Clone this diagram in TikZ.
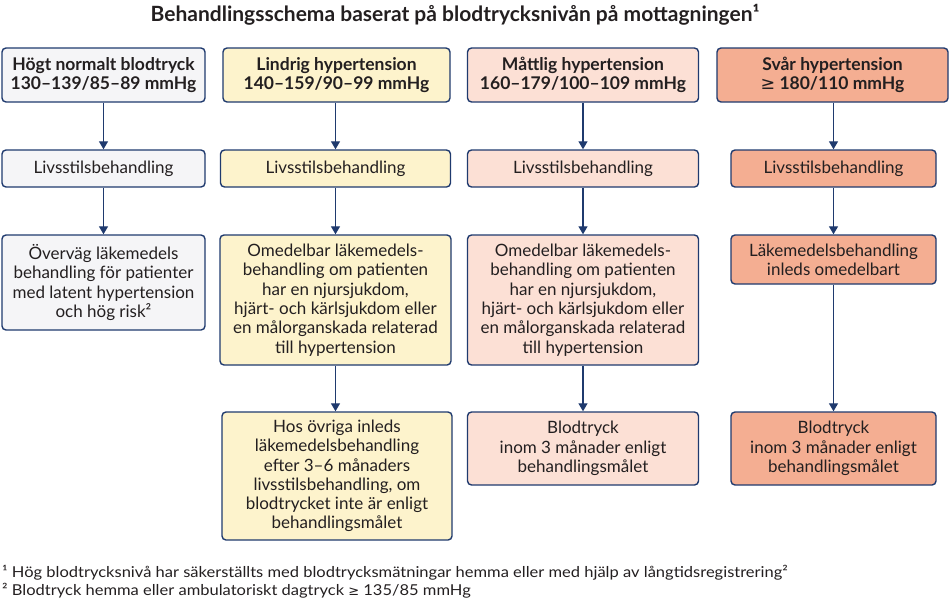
\documentclass[tikz,border=0pt]{standalone}
\usepackage{fontspec}
\setmainfont{Lato}
\newfontfamily\symf{DejaVu Sans}
\newfontfamily\footf[FakeStretch=1.1]{Lato}
\usetikzlibrary{arrows.meta}
\definecolor{navy}{HTML}{1F3A6E}
\definecolor{cA}{HTML}{F5F5F7}
\definecolor{cB}{HTML}{FDF3CC}
\definecolor{cC}{HTML}{FCE0D5}
\definecolor{cD}{HTML}{F4AE92}
\definecolor{txt}{HTML}{231F20}
\tikzset{
  box/.style={draw=navy, line width=1.4pt, rounded corners=4pt, align=center, inner sep=0pt,
    text=txt, font=\fontsize{17}{19.3}\selectfont},
  hbox/.style={box, font=\fontsize{17.5}{19.5}\selectfont\bfseries},
  arr/.style={draw=navy, line width=1.3pt, -{Triangle[width=9pt,length=8pt]}},
  foot/.style={anchor=west, inner sep=0pt, font=\footf\fontsize{15}{17}\selectfont, text=txt},
}
\begin{document}
\begin{tikzpicture}[x=1pt,y=-1pt]
\useasboundingbox (0,0) rectangle (950,603);
\node[font=\fontsize{21}{22}\selectfont\bfseries, text=txt] (title) at (455,15) {Behandlingsschema baserat på blodtrycksnivån på mottagningen¹};
% row 1 headers
\node[hbox, fill=cA, minimum width=203pt, minimum height=54pt] (h1) at (103.5,75) {Högt normalt blodtryck\\130–139/85–89 mmHg};
\node[hbox, fill=cB, minimum width=227pt, minimum height=54pt] (h2) at (336.5,75) {Lindrig hypertension\\140–159/90–99 mmHg};
\node[hbox, fill=cC, minimum width=231pt, minimum height=54pt] (h3) at (583,75) {Måttlig hypertension\\160–179/100–109 mmHg};
\node[hbox, fill=cD, minimum width=231pt, minimum height=54pt] (h4) at (832.5,75) {Svår hypertension\\{\symf\mdseries ≥} 180/110 mmHg};
% row 2
\node[box, fill=cA, minimum width=203pt, minimum height=37pt] (l1) at (103.5,168.5) {Livsstilsbehandling};
\node[box, fill=cB, minimum width=230pt, minimum height=37pt] (l2) at (335.5,168.5) {Livsstilsbehandling};
\node[box, fill=cC, minimum width=231pt, minimum height=37pt] (l3) at (583,168.5) {Livsstilsbehandling};
\node[box, fill=cD, minimum width=205pt, minimum height=37pt] (l4) at (833.5,168.5) {Livsstilsbehandling};
% row 3
\node[box, fill=cA, minimum width=203pt, minimum height=95pt] (m1) at (103.5,282.5) {Överväg läkemedels\\behandling för patienter\\med latent hypertension\\och hög risk²};
\node[box, fill=cB, minimum width=231pt, minimum height=130pt] (m2) at (335.5,300) {Omedelbar läkemedels-\\behandling om patienten\\har en njursjukdom,\\hjärt- och kärlsjukdom eller\\en målorganskada relaterad\\till hypertension};
\node[box, fill=cC, minimum width=231pt, minimum height=130pt] (m3) at (583,300) {Omedelbar läkemedels-\\behandling om patienten\\har en njursjukdom,\\hjärt- och kärlsjukdom eller\\en målorganskada relaterad\\till hypertension};
\node[box, fill=cD, minimum width=205pt, minimum height=49pt] (m4) at (833.5,259.5) {Läkemedelsbehandling\\inleds omedelbart};
% row 4
\node[box, fill=cB, minimum width=230pt, minimum height=128pt] (b2) at (337,476) {Hos övriga inleds\\läkemedelsbehandling\\efter 3–6 månaders\\livsstilsbehandling, om\\blodtrycket inte är enligt\\behandlingsmålet};
\node[box, fill=cC, minimum width=231pt, minimum height=73pt] (b3) at (583,448.5) {Blodtryck\\inom 3 månader enligt\\behandlingsmålet};
\node[box, fill=cD, minimum width=205pt, minimum height=73pt] (b4) at (833.5,448.5) {Blodtryck\\inom 3 månader enligt\\behandlingsmålet};
% arrows
\draw[arr] (h1.south) -- (h1.south |- l1.north);
\draw[arr] (l1.south) -- (l1.south |- m1.north);
\draw[arr] (l2.south |- h2.south) -- (l2.north);
\draw[arr] (l2.south) -- (l2.south |- m2.north);
\draw[arr] (m2.south) -- (m2.south |- b2.north);
\draw[arr] (h3.south) -- (h3.south |- l3.north);
\draw[arr] (l3.south) -- (l3.south |- m3.north);
\draw[arr] (m3.south) -- (m3.south |- b3.north);
\draw[arr] (l4.north |- h4.south) -- (l4.north);
\draw[arr] (l4.south) -- (l4.south |- m4.north);
\draw[arr] (m4.south) -- (m4.south |- b4.north);
% footnotes
\node[foot] (f1) at (2,573) {¹ Hög blodtrycksnivå har säkerställts med blodtrycksmätningar hemma eller med hjälp av långtidsregistrering²};
\node[foot] (f2) at (2,591) {² Blodtryck hemma eller ambulatoriskt dagtryck {\symf\fontsize{13}{16}\selectfont ≥} 135/85 mmHg};
\end{tikzpicture}
\end{document}
